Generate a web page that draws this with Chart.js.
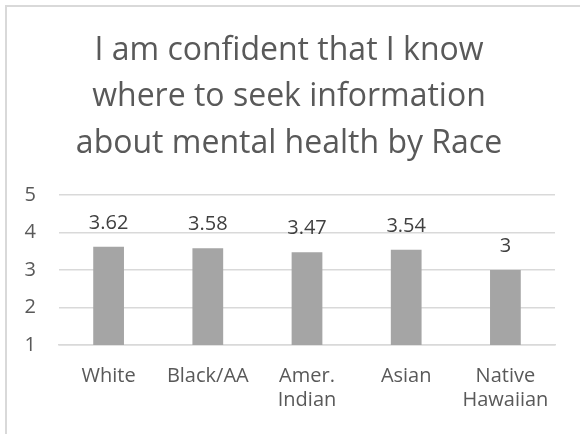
<!DOCTYPE html>
<html>
<head>
<meta charset="utf-8">
<script src="https://cdn.jsdelivr.net/npm/chart.js@4.4.1/dist/chart.umd.min.js"></script>
<style>
    html, body { margin: 0; padding: 0; background: #fff; }
    #frame {
        position: absolute; left: 5px; top: 5px; width: 600px; height: 460px;
        border-left: 2px solid #d9d9d9; border-top: 2px solid #d9d9d9;
    }
    #wrap { position: absolute; left: 0; top: 0; width: 580px; height: 434px; }
</style>
</head>
<body>
<div id="frame"></div>
<div id="wrap"><canvas id="chart" width="580" height="434"></canvas></div>
<script>
// Chart data
const categories = [['White'], ['Black/AA'], ['Amer.', 'Indian'], ['Asian'], ['Native', 'Hawaiian']];
const scores = [3.62, 3.58, 3.47, 3.54, 3];
const yTicks = [1, 2, 3, 4, 5];
const titleLines = ['I am confident that I know', 'where to seek information', 'about mental health by Race'];

const FONT = '"Open Sans", sans-serif';

// Value labels above each bar
const valueLabels = {
    id: 'valueLabels',
    afterDatasetsDraw(chart) {
        const ctx = chart.ctx;
        const meta = chart.getDatasetMeta(0);
        ctx.save();
        ctx.font = '20px ' + FONT;
        ctx.fillStyle = '#404040';
        ctx.textAlign = 'center';
        ctx.textBaseline = 'alphabetic';
        meta.data.forEach((bar, i) => {
            ctx.fillText(String(scores[i]), bar.x, bar.y - 18);
        });
        ctx.restore();
    }
};

new Chart(document.getElementById('chart'), {
    type: 'bar',
    data: {
        labels: categories,
        datasets: [{
            data: scores,
            backgroundColor: '#a5a5a5',
            barPercentage: 0.31,
            categoryPercentage: 1
        }]
    },
    options: {
        responsive: false,
        animation: false,
        layout: { padding: { left: 23, right: 25, top: 0, bottom: 0 } },
        plugins: {
            legend: { display: false },
            tooltip: { enabled: false },
            title: {
                display: true,
                text: titleLines,
                color: '#595959',
                font: { family: FONT, size: 32, weight: 'normal', lineHeight: 1.456 },
                padding: { top: 27.4, bottom: 27.8 }
            }
        },
        scales: {
            x: {
                grid: { display: false, drawTicks: false },
                border: { display: true, color: '#d9d9d9', width: 1.5 },
                ticks: { color: '#595959', font: { family: FONT, size: 20, lineHeight: 1.2 }, padding: 19, maxRotation: 0 },
                afterFit(scale) { scale.height = 89; }
            },
            y: {
                min: 1,
                max: 5,
                afterBuildTicks(scale) { scale.ticks = yTicks.map(v => ({ value: v })); },
                grid: { color: '#d9d9d9', lineWidth: 1.5, drawTicks: false },
                border: { display: false },
                ticks: { color: '#595959', font: { family: FONT, size: 20 }, padding: 23 },
                afterFit(scale) { scale.width = 36; }
            }
        }
    },
    plugins: [valueLabels]
});
</script>
</body>
</html>
